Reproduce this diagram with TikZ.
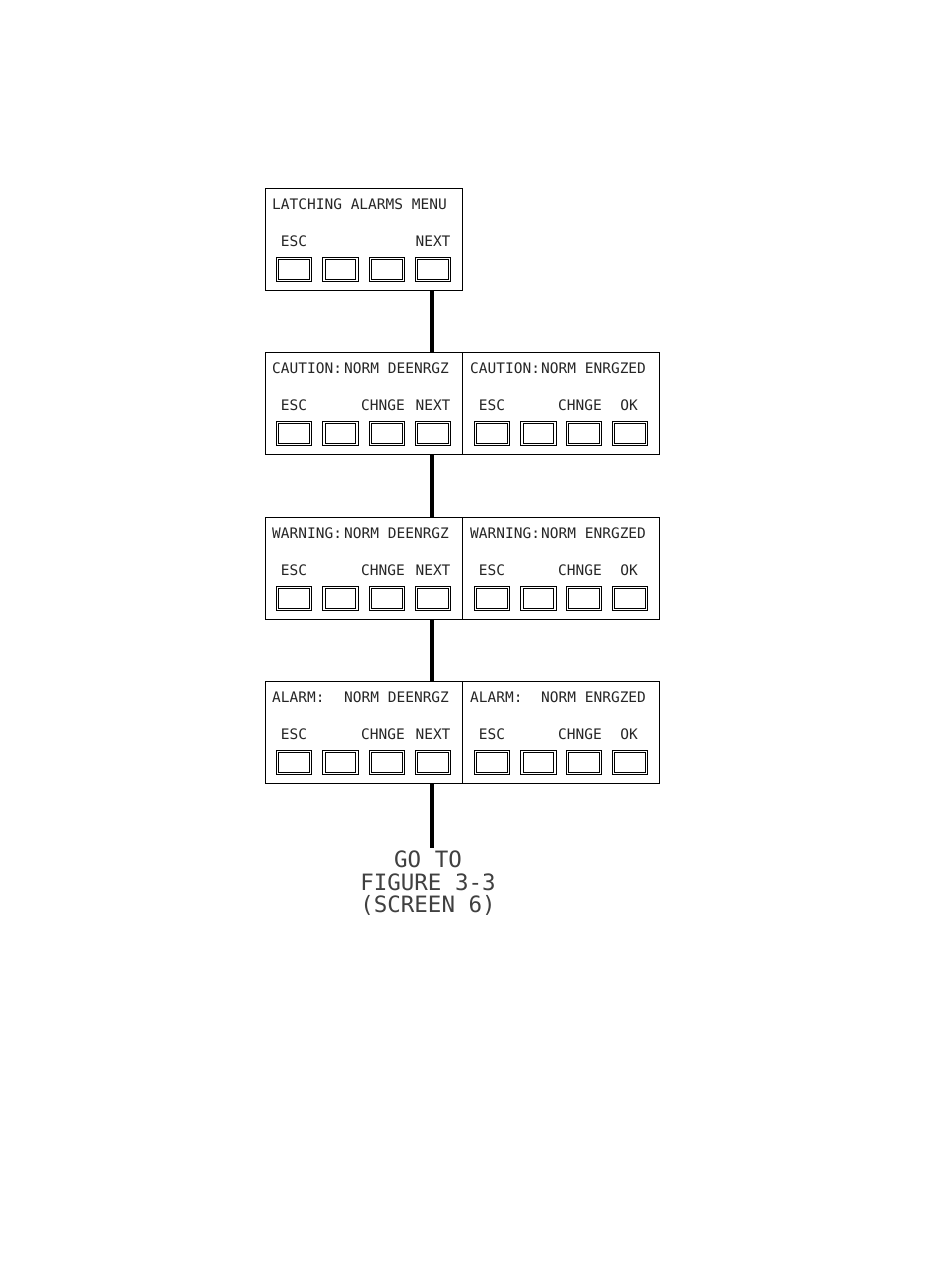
\documentclass[tikz,border=0pt]{standalone}
\usepackage{fontspec}
\setmainfont{DejaVu Sans Mono}
\begin{document}
\begin{tikzpicture}[x=1pt,y=-1pt,
  frame/.style={draw, line width=1.1pt, minimum width=197pt, minimum height=102pt, inner sep=0pt, anchor=north west},
  btn/.style={draw, line width=0.9pt, minimum width=35.5pt, minimum height=24.5pt, inner sep=0pt,
    path picture={\draw[line width=0.9pt] ([shift={(2.6pt,2.6pt)}]path picture bounding box.south west) rectangle ([shift={(-2.6pt,-2.6pt)}]path picture bounding box.north east);}},
  lbl/.style={font=\fontsize{14.5}{15}\selectfont, text=black!85, inner sep=0pt, anchor=base},
  ttl/.style={lbl, anchor=base west},
  conn/.style={line width=3.2pt},
  big/.style={font=\fontsize{22.5}{22.5}\selectfont, text=black!75, align=center, anchor=north, inner sep=3pt}]
\useasboundingbox (0,0) rectangle (950,1284);
% top screen
\node[frame] (top) at (265,188) {};
\node[ttl] (toptitle) at (272,209) {LATCHING ALARMS MENU};
\node[lbl] (topesc) at (294,246) {ESC};
\node[lbl] (topnext) at (433,246) {NEXT};
\node[btn] (t1) at (294,269.5) {};
\node[btn] (t2) at (340.5,269.5) {};
\node[btn] (t3) at (387,269.5) {};
\node[btn] (t4) at (433,269.5) {};
% rows
\foreach \r/\y/\pre in {1/352/CAUTION:, 2/517/WARNING:, 3/681/ALARM:}{
  \node[frame] (L\r) at (265,\y) {};
  \node[frame] (R\r) at (462,\y) {};
  \node[ttl] (Lp\r) at (272,\y+21) {\pre};
  \node[ttl] (Ls\r) at (344,\y+21) {NORM DEENRGZ};
  \node[ttl] (Rp\r) at (470,\y+21) {\pre};
  \node[ttl] (Rs\r) at (541,\y+21) {NORM ENRGZED};
  \node[lbl] (Le\r) at (294,\y+58) {ESC};
  \node[lbl] (Lc\r) at (383,\y+58) {CHNGE};
  \node[lbl] (Ln\r) at (433,\y+58) {NEXT};
  \node[lbl] (Re\r) at (492,\y+58) {ESC};
  \node[lbl] (Rc\r) at (580,\y+58) {CHNGE};
  \node[lbl] (Ro\r) at (629,\y+58) {OK};
  \node[btn] (Lb\r a) at (294,\y+81.5) {};
  \node[btn] (Lb\r b) at (340.5,\y+81.5) {};
  \node[btn] (Lb\r c) at (387,\y+81.5) {};
  \node[btn] (Lb\r d) at (433,\y+81.5) {};
  \node[btn] (Rb\r a) at (492,\y+81.5) {};
  \node[btn] (Rb\r b) at (538.5,\y+81.5) {};
  \node[btn] (Rb\r c) at (584,\y+81.5) {};
  \node[btn] (Rb\r d) at (630,\y+81.5) {};
}
\node[big] (goto) at (428,848) {GO TO\\FIGURE 3-3\\(SCREEN 6)};
\coordinate (cx) at (432,0);
\draw[conn] (top.south -| cx) -- (L1.north -| cx);
\draw[conn] (L1.south -| cx) -- (L2.north -| cx);
\draw[conn] (L2.south -| cx) -- (L3.north -| cx);
\draw[conn] (L3.south -| cx) -- (goto.north -| cx);
\end{tikzpicture}
\end{document}
